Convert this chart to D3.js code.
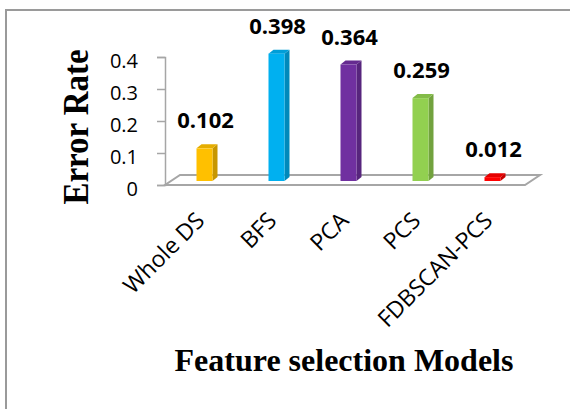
<!DOCTYPE html>
<html>
<head>
<meta charset="utf-8">
<script src="https://cdn.jsdelivr.net/npm/d3@7"></script>
<style>
  html, body { margin: 0; padding: 0; background: #fff; }
  svg { display: block; }
</style>
</head>
<body>
<div id="chart"></div>
<script>
const categories = ["Whole DS", "BFS", "PCA", "PCS", "FDBSCAN-PCS"];
const errorRates = [0.102, 0.398, 0.364, 0.259, 0.012];
const yTickValues = [0, 0.1, 0.2, 0.3, 0.4];
const palette = ["#FFC000", "#00B0F0", "#7030A0", "#92D050", "#FF0000"];

const width = 572;
const height = 409;
const plot = { left: 165, right: 525, top: 57, bottom: 185 };
const floorDepth = { dx: 15, dy: -10 };
const barShift = { dx: 3.5, dy: -4 };
const barWidth = 16;
const barSide = { dx: 5, dy: -4 };

const svg = d3.select("#chart")
  .append("svg")
  .attr("width", width)
  .attr("height", height);

// outer frame (only left and top edges visible)
svg.append("path")
  .attr("d", `M6,${height} L6,10 L${width - 2},10`)
  .attr("fill", "none")
  .attr("stroke", "#9a9a9a")
  .attr("stroke-width", 2);

const x = d3.scaleBand().domain(categories).range([plot.left, plot.right]);
const y = d3.scaleLinear().domain([0, 0.4]).range([plot.bottom, plot.top]);
const color = d3.scaleOrdinal().domain(categories).range(palette);

// floor
const x0 = plot.left, x1 = plot.right, yb = y(0);
svg.append("path")
  .attr("d", `M${x0},${yb} L${x1},${yb} L${x1 + floorDepth.dx},${yb + floorDepth.dy} L${x0 + floorDepth.dx},${yb + floorDepth.dy} Z`)
  .attr("fill", "#fff")
  .attr("stroke", "#a6a6a6")
  .attr("stroke-width", 2);

// vertical axis
const yAxis = d3.axisLeft(y).tickValues(yTickValues).tickSize(8).tickPadding(0).tickFormat(d3.format("~g"));
const yAxisG = svg.append("g")
  .attr("transform", `translate(${plot.left},0)`)
  .call(yAxis);
yAxisG.select(".domain").attr("stroke", "#a6a6a6").attr("stroke-width", 1.5);
yAxisG.selectAll(".tick line").attr("stroke", "#a6a6a6").attr("stroke-width", 1.5);
yAxisG.selectAll(".tick text")
  .attr("x", -27)
  .attr("dy", "0.52em")
  .attr("fill", "#000")
  .style("font-family", "'Open Sans', sans-serif")
  .style("font-size", "20px");

// bars
const bars = svg.append("g");
categories.forEach((cat, i) => {
  const v = errorRates[i];
  const c = color(cat);
  const cx = x(cat) + x.bandwidth() / 2 + barShift.dx;
  const left = cx - barWidth / 2;
  const right = cx + barWidth / 2;
  const bottom = y(0) + barShift.dy;
  const top = y(v) + barShift.dy;
  const g = bars.append("g");
  g.append("path")
    .attr("d", `M${right},${bottom} L${right + barSide.dx},${bottom + barSide.dy} L${right + barSide.dx},${top + barSide.dy} L${right},${top} Z`)
    .attr("fill", d3.color(c).darker(0.7));
  g.append("path")
    .attr("d", `M${left},${top} L${right},${top} L${right + barSide.dx},${top + barSide.dy} L${left + barSide.dx},${top + barSide.dy} Z`)
    .attr("fill", d3.color(c).darker(0.3));
  g.append("rect")
    .attr("x", left)
    .attr("y", top)
    .attr("width", barWidth)
    .attr("height", bottom - top)
    .attr("fill", c);
  svg.append("text")
    .attr("x", cx + 1)
    .attr("y", top - 20)
    .attr("text-anchor", "middle")
    .style("font-family", "'Open Sans', sans-serif")
    .style("font-weight", "bold")
    .style("font-size", "22px")
    .text(d3.format(".3f")(v));
});

// category labels
categories.forEach((cat) => {
  const ex = x(cat) + x.bandwidth() / 2 + 5;
  svg.append("text")
    .attr("transform", `translate(${ex},222) rotate(-45)`)
    .attr("text-anchor", "end")
    .style("font-family", "'Open Sans', sans-serif")
    .style("font-size", "23px")
    .text(cat);
});

// axis titles
svg.append("text")
  .attr("transform", "translate(88,127) rotate(-90)")
  .attr("text-anchor", "middle")
  .attr("textLength", 155)
  .attr("lengthAdjust", "spacingAndGlyphs")
  .style("font-family", "'Liberation Serif', 'Times New Roman', serif")
  .style("font-weight", "bold")
  .style("font-size", "36px")
  .text("Error Rate");

svg.append("text")
  .attr("x", 344)
  .attr("y", 371)
  .attr("text-anchor", "middle")
  .style("font-family", "'Liberation Serif', 'Times New Roman', serif")
  .style("font-weight", "bold")
  .style("font-size", "32px")
  .text("Feature selection Models");
</script>
</body>
</html>
